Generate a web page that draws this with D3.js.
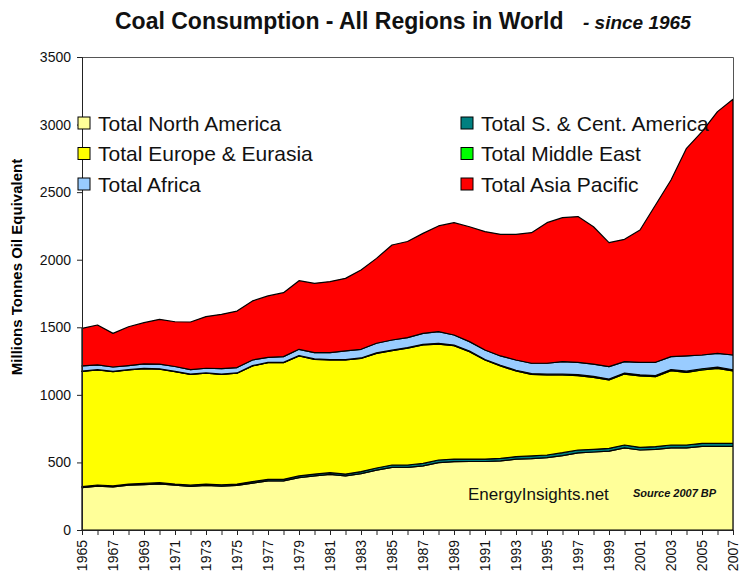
<!DOCTYPE html>
<html>
<head>
<meta charset="utf-8">
<script src="https://d3js.org/d3.v7.min.js"></script>
<style>
  body { margin: 0; background: #fff; }
  text { font-family: Arial, "Liberation Sans", sans-serif; }
</style>
</head>
<body>
<div id="vis_coal"></div>
<script>
// years on the category axis
var years = d3.range(1965, 2008);

// Million tonnes oil equivalent
var northAmerica = [313, 325, 318, 331, 336, 341, 331, 323, 330, 325, 330, 347, 364, 363, 388, 401, 411, 400, 417, 443, 464, 463,
  475, 499, 506, 507, 507, 512, 524, 528, 535, 551, 571, 577, 584, 608, 592, 597, 608, 608, 619, 619, 619];
var southCentAmerica = [8, 8, 8, 9, 9, 9, 9, 10, 10, 10, 10, 11, 11, 12, 12, 13, 13, 14, 15, 16, 17, 18,
  18, 19, 19, 18, 18, 18, 19, 20, 20, 21, 21, 20, 20, 21, 20, 20, 21, 21, 22, 22, 22];
var europeEurasia = [853, 851, 846, 844, 849, 841, 832, 819, 820, 817, 820, 856, 863, 863, 888, 849, 834, 844, 838, 848, 846, 864,
  876, 858, 839, 795, 733, 684, 634, 604, 592, 575, 550, 533, 506, 525, 528, 518, 550, 538, 543, 555, 536];
var middleEast = [2, 2, 2, 2, 2, 2, 2, 2, 2, 2, 2, 2, 2, 2, 3, 3, 3, 3, 3, 4, 4, 5,
  5, 5, 5, 5, 4, 5, 5, 6, 6, 6, 7, 7, 7, 7, 8, 8, 8, 8, 9, 9, 9];
var africa = [38, 36, 32, 31, 33, 35, 36, 33, 35, 40, 40, 42, 38, 43, 46, 46, 51, 64, 64, 71, 75, 73,
  81, 87, 74, 69, 70, 69, 76, 76, 81, 93, 92, 91, 92, 85, 93, 98, 96, 113, 102, 102, 109];
var asiaPacific = [278, 295, 249, 287, 305, 331, 331, 352, 382, 402, 418, 437, 454, 473, 508, 513, 526, 537, 587, 628, 703, 712,
  740, 782, 831, 850, 876, 900, 930, 966, 1040, 1065, 1078, 1016, 917, 905, 979, 1164, 1307, 1536, 1653, 1789, 1892];

var seriesNames = ['Total North America', 'Total S. & Cent. America', 'Total Europe & Eurasia',
  'Total Middle East', 'Total Africa', 'Total Asia Pacific'];
var seriesColors = ['#ffff99', '#008080', '#ffff00', '#00ff00', '#99ccff', '#ff0000'];
var yTicks = [0, 500, 1000, 1500, 2000, 2500, 3000, 3500];

var margin = {
  top: 57,
  left: 82,
  right: 7,
  bottom: 50,
};

var width = 740;
var height = 580;

var svg = d3.select('#vis_coal')
  .append('svg')
  .attr('width', width)
  .attr('height', height);

width = width - margin.left - margin.right;
height = height - margin.top - margin.bottom;

var g = svg.append('g')
  .attr('transform', 'translate(' + margin.left + ',' + margin.top + ')');

// build the table for d3.stack
var allSeries = [northAmerica, southCentAmerica, europeEurasia, middleEast, africa, asiaPacific];
var table = years.map(function(yr, i) {
  var row = { year: yr };
  seriesNames.forEach(function(name, k) {
    row[name] = allSeries[k][i];
  });
  return row;
});

var stacked = d3.stack().keys(seriesNames)(table);

var x = d3.scaleLinear()
  .domain([1965, 2007])
  .range([0, width]);

var y = d3.scaleLinear()
  .domain([0, 3500])
  .range([height, 0]);

var area = d3.area()
  .x(function(d) { return x(d.data.year); })
  .y0(function(d) { return y(d[0]); })
  .y1(function(d) { return y(d[1]); });

g.selectAll('.layer')
  .data(stacked)
  .enter()
  .append('path')
  .attr('class', 'layer')
  .attr('fill', function(d, i) { return seriesColors[i]; })
  .attr('stroke', '#000')
  .attr('stroke-width', 1.2)
  .attr('stroke-linejoin', 'round')
  .attr('d', area);

// plot area frame (top and right)
g.append('path')
  .attr('d', 'M0,0.5H' + (width + 0.5) + 'V' + height)
  .attr('fill', 'none')
  .attr('stroke', '#555')
  .attr('stroke-width', 1);

// y axis
var y_axis = d3.axisLeft(y)
  .tickValues(yTicks)
  .tickSize(5)
  .tickPadding(6)
  .tickFormat(d3.format('d'));

var yg = g.append('g')
  .attr('class', 'y axis')
  .call(y_axis);
yg.select('.domain').attr('stroke', '#222');
yg.selectAll('line').attr('stroke', '#222');
yg.selectAll('text')
  .style('font-size', '14px')
  .attr('fill', '#111');

// x axis: a tick every year, a label every second year
var x_axis = d3.axisBottom(x)
  .tickValues(years)
  .tickSize(5)
  .tickFormat(function(d) { return (d - 1965) % 2 === 0 ? d : ''; });

var xg = g.append('g')
  .attr('class', 'x axis')
  .attr('transform', 'translate(0,' + height + ')')
  .call(x_axis);
xg.select('.domain').attr('stroke', '#222');
xg.selectAll('line').attr('stroke', '#222');
xg.selectAll('text')
  .style('font-size', '14px')
  .attr('fill', '#111')
  .attr('transform', 'rotate(-90)')
  .attr('x', -10)
  .attr('y', 0)
  .attr('dy', '0.35em')
  .style('text-anchor', 'end');

// y label
svg.append('text')
  .attr('transform', 'translate(22,' + 267 + ') rotate(-90)')
  .style('text-anchor', 'middle')
  .style('font-size', '15px')
  .style('font-weight', 'bold')
  .text('Millions Tonnes Oil Equivalent');

// title
var title = svg.append('text')
  .attr('x', 115)
  .attr('y', 29)
  .style('font-weight', 'bold')
  .style('font-size', '23px')
  .attr('fill', '#111');
title.append('tspan').text('Coal Consumption - All Regions in World');
title.append('tspan')
  .attr('x', 583)
  .style('font-size', '19px')
  .style('font-style', 'italic')
  .text('- since 1965');

// legend, two columns filled row by row like Excel does
var legend = svg.selectAll('.legend')
  .data(seriesNames)
  .enter()
  .append('g')
  .attr('class', 'legend')
  .attr('transform', function(d, i) {
    var col = i % 2;
    var row = Math.floor(i / 2);
    return 'translate(' + (col === 0 ? 78 : 461) + ',' + (117 + row * 30.5) + ')';
  });

legend.append('rect')
  .attr('width', 12)
  .attr('height', 12)
  .attr('fill', function(d, i) { return seriesColors[i]; })
  .attr('stroke', '#000')
  .attr('stroke-width', 1);

legend.append('text')
  .attr('x', 20)
  .attr('y', 6)
  .attr('dy', '0.36em')
  .style('font-size', '21px')
  .attr('fill', '#111')
  .text(function(d) { return d; });

// watermark + source
svg.append('text')
  .attr('x', 468)
  .attr('y', 500)
  .style('font-size', '17px')
  .attr('fill', '#111')
  .text('EnergyInsights.net');

svg.append('text')
  .attr('x', 633)
  .attr('y', 497)
  .style('font-size', '11px')
  .style('font-style', 'italic')
  .style('font-weight', 'bold')
  .attr('fill', '#111')
  .text('Source 2007 BP');
</script>
</body>
</html>
